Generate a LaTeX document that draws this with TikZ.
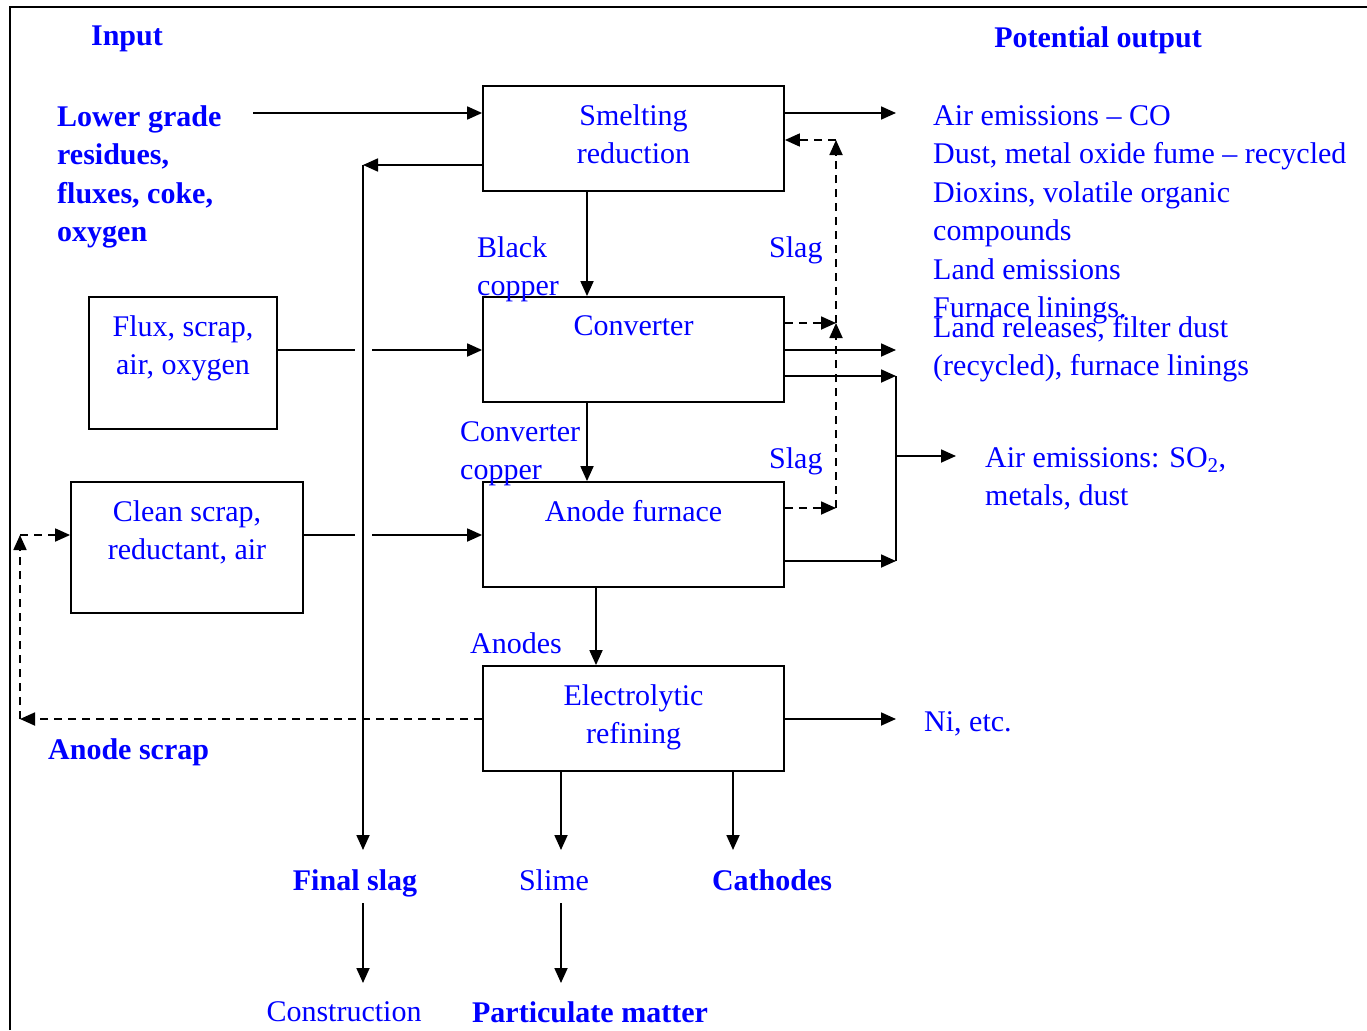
\documentclass[tikz,border=0pt]{standalone}
\usepackage{fontspec}
\setmainfont{Liberation Serif}
\usetikzlibrary{arrows.meta, positioning}

\begin{document}
\begin{tikzpicture}[
           x = 1pt, y = -1pt,
           > = {Triangle[length=15pt,width=13pt]},
  flow/.style = {line width=1.8pt,->},
  back/.style = {line width=1.8pt,->,dash pattern=on 8pt off 6pt},
 stage/.style = {draw, line width=1.8pt, minimum width=301pt, minimum height=105pt},
   txt/.style = {inner sep=0pt, text=blue, font=\fontsize{30}{38.5}\selectfont},
  head/.style = {txt, font=\fontsize{30}{38.5}\selectfont\bfseries}
                        ]
\useasboundingbox (0,0) rectangle (1367,1030);
% frame
    \draw[line width=1.8pt] (10,1030) -- (10,7) -- (1367,7);
% process boxes
    \node[stage] (smelt) at (633.5,138.5) {};
    \node[stage] (conv)  at (633.5,349.5) {};
    \node[stage] (anode) at (633.5,534.5) {};
    \node[stage] (elec)  at (633.5,718.5) {};
    \node[draw, line width=1.8pt, minimum width=188pt, minimum height=132pt] (flux)  at (183,363) {};
    \node[draw, line width=1.8pt, minimum width=232pt, minimum height=131pt] (clean) at (187,547.5) {};
    \node[txt, align=center, below=19pt of smelt.north] (smelttxt) {Smelting\\reduction};
    \node[txt, below=19pt of conv.north]  (convtxt)  {Converter};
    \node[txt, below=19pt of anode.north] (anodetxt) {Anode furnace};
    \node[txt, align=center, below=19pt of elec.north] (electxt) {Electrolytic\\refining};
    \node[txt, align=center, below=19pt of flux.north]  (fluxtxt)  {Flux, scrap,\\air, oxygen};
    \node[txt, align=center, below=19pt of clean.north] (cleantxt) {Clean scrap,\\reductant, air};
% headings and inputs
    \node[head, anchor=north] (input)  at (127,26)  {Input};
    \node[head, anchor=north] (output) at (1098,26) {Potential output};
    \node[head, anchor=north west, align=left] (lower) at (57,105) {Lower grade\\residues,\\fluxes, coke,\\oxygen};
    \node[head, anchor=north west] (ascrap) at (48,738) {Anode scrap};
% stream labels
    \node[txt, anchor=north west, align=left] (black)   at (477,236) {Black\\copper};
    \node[txt, anchor=north west, align=left] (ccopper) at (460,421) {Converter\\copper};
    \node[txt, anchor=north west] (slag1)   at (769,236) {Slag};
    \node[txt, anchor=north west] (slag2)   at (769,447) {Slag};
    \node[txt, anchor=north west] (anodes)  at (470,632) {Anodes};
% outputs
    \node[txt, anchor=north west, align=left] (emis) at (933,105)
        {Air emissions -- CO\\Dust, metal oxide fume -- recycled\\Dioxins, volatile organic\\compounds\\Land emissions\\Furnace linings.};
    \node[txt, anchor=north west, align=left] (land) at (933,316) {Land releases, filter dust\\(recycled), furnace linings};
    \node[txt, anchor=north west, align=left] (so2)  at (985,447) {Air emissions: SO\textsubscript{2},\\metals, dust};
    \node[txt, anchor=north west] (ni) at (924,711) {Ni, etc.};
    \node[head, anchor=north] (fslag)  at (355,869) {Final slag};
    \node[txt,  anchor=north] (slime)  at (554,869) {Slime};
    \node[head, anchor=north] (cath)   at (772,869) {Cathodes};
    \node[txt,  anchor=north] (constr) at (344,1001) {Construction};
    \node[head, anchor=north] (pm)     at (590,1001) {Particulate matter};
% free ends
\coordinate (lg) at (253,113);
\coordinate (sb) at (363,165);
\coordinate (sf) at (363,850);
\coordinate (g1) at (355,350);  \coordinate (g2) at (372,350);
\coordinate (g3) at (355,535);  \coordinate (g4) at (372,535);
\coordinate (o1) at (896,113);  \coordinate (o2) at (896,350);
\coordinate (o3) at (896,376);  \coordinate (o4) at (896,561);
\coordinate (o5) at (896,456);  \coordinate (o6) at (956,456);
\coordinate (o7) at (896,719);
\coordinate (d1) at (836,140);  \coordinate (d2) at (836,323);
\coordinate (d3) at (836,508);
\coordinate (l1) at (20,535);   \coordinate (l2) at (20,719);
\coordinate (b1) at (561,850);  \coordinate (b2) at (733,850);
\coordinate (b3) at (363,903);  \coordinate (b4) at (363,983);
\coordinate (b5) at (561,903);  \coordinate (b6) at (561,983);
% main flow
    \draw[flow] (lg) -- (smelt.west |- lg);
    \draw[flow] (smelt.west |- sb) -- (sb);
    \draw[flow] (sb) -- (sf);
    \draw[flow] (smelt.south -| 587,0) -- (conv.north -| 587,0);
    \draw[flow] (conv.south -| 587,0) -- (anode.north -| 587,0);
    \draw[flow] (anode.south -| 596,0) -- (elec.north -| 596,0);
    \draw[line width=1.8pt] (flux.east |- g1) -- (g1);
    \draw[flow] (g2) -- (conv.west |- g2);
    \draw[line width=1.8pt] (clean.east |- g3) -- (g3);
    \draw[flow] (g4) -- (anode.west |- g4);
    \draw[flow] (elec.south -| b1) -- (b1);
    \draw[flow] (elec.south -| b2) -- (b2);
    \draw[flow] (b3) -- (b4);
    \draw[flow] (b5) -- (b6);
% outputs on the right
    \draw[flow] (smelt.east |- o1) -- (o1);
    \draw[flow] (conv.east |- o2) -- (o2);
    \draw[flow] (conv.east |- o3) -- (o3);
    \draw[flow] (anode.east |- o4) -- (o4);
    \draw[line width=1.8pt] (o3) -- (o4);
    \draw[flow] (o5) -- (o6);
    \draw[flow] (elec.east |- o7) -- (o7);
% slag and scrap recycling
    \draw[back] (conv.east |- d2) -- (d2);
    \draw[back] (anode.east |- d3) -- (d3);
    \draw[back] (d3) -- (d2);
    \draw[back] (d2) -- (d1);
    \draw[back] (d1) -- (smelt.east |- d1);
    \draw[back] (elec.west |- l2) -- (l2);
    \draw[back] (l2) -- (l1);
    \draw[back] (l1) -- (clean.west |- l1);
\end{tikzpicture}
\end{document}
